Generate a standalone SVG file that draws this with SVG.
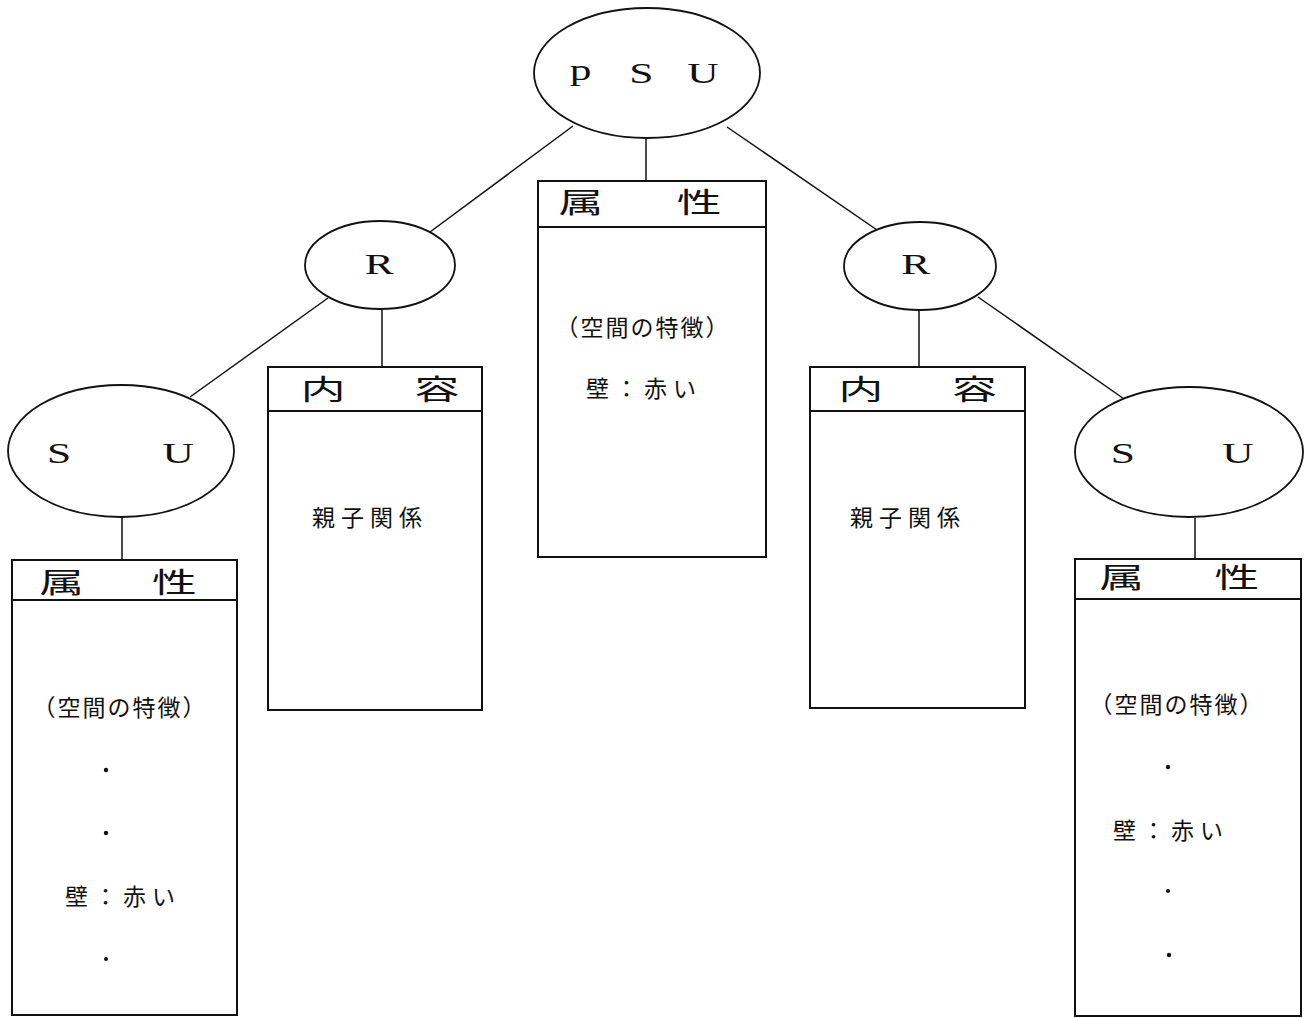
<svg xmlns="http://www.w3.org/2000/svg" width="1311" height="1018" viewBox="0 0 1311 1018">
<style>
.el{fill:#fff;stroke:#111;stroke-width:1.8}
.bx{fill:#fff;stroke:#111;stroke-width:2}
.hl{stroke:#111;stroke-width:2}
.cn{stroke:#111;stroke-width:1.5;fill:none}
.lat{font-family:"Liberation Serif",serif;font-size:30px;fill:#111}
.hd{font-family:"Noto Sans CJK JP",sans-serif;font-size:28px;fill:#111}
.tx{font-family:"Noto Sans CJK JP",sans-serif;font-size:23px;fill:#111;text-anchor:middle}
.dot{fill:#111}
</style>
<rect width="1311" height="1018" fill="#fff"/>
<g id="connectors">
<line class="cn" x1="573" y1="126" x2="430" y2="232"/>
<line class="cn" x1="727" y1="127" x2="880" y2="232"/>
<line class="cn" x1="328" y1="298" x2="190" y2="397"/>
<line class="cn" x1="978" y1="297" x2="1127" y2="401"/>
<line class="cn" x1="646" y1="138" x2="646" y2="181"/>
<line class="cn" x1="382" y1="308" x2="382" y2="367"/>
<line class="cn" x1="919" y1="310" x2="919" y2="367"/>
<line class="cn" x1="122" y1="517" x2="122" y2="560"/>
<line class="cn" x1="1195" y1="518" x2="1195" y2="559"/>
</g>
<g id="psu">
<ellipse class="el" cx="647" cy="73" rx="113" ry="65"/>
<text class="lat" transform="scale(1.45,1)"><tspan x="393" y="80">p </tspan><tspan x="434" y="83">S </tspan><tspan x="474" y="83">U</tspan></text>
</g>
<g id="r-left">
<ellipse class="el" cx="380" cy="265" rx="75" ry="44"/>
<text class="lat" transform="scale(1.45,1)" x="251.5" y="274">R</text>
</g>
<g id="r-right">
<ellipse class="el" cx="920" cy="266" rx="76" ry="44"/>
<text class="lat" transform="scale(1.45,1)" x="621.5" y="274">R</text>
</g>
<g id="su-left">
<ellipse class="el" cx="121" cy="451" rx="113" ry="66"/>
<text class="lat" transform="scale(1.45,1)" y="463"><tspan x="32.5">S </tspan><tspan x="112">U</tspan></text>
</g>
<g id="su-right">
<ellipse class="el" cx="1189" cy="452" rx="114" ry="65"/>
<text class="lat" transform="scale(1.45,1)" y="463"><tspan x="766">S </tspan><tspan x="843">U</tspan></text>
</g>
<g id="attr-center">
<rect class="bx" x="538" y="181" width="228" height="376"/>
<line class="hl" x1="538" y1="227" x2="766" y2="227"/>
<text class="hd" transform="scale(1.6,1)" y="213"><tspan x="349">属 </tspan><tspan x="423">性</tspan></text>
<text class="tx" x="643" y="336" letter-spacing="2">（空間の特徴）</text>
<text class="tx" x="644" y="397" letter-spacing="6">壁：赤い</text>
</g>
<g id="content-left">
<rect class="bx" x="268" y="367" width="214" height="343"/>
<line class="hl" x1="268" y1="411" x2="482" y2="411"/>
<text class="hd" transform="scale(1.6,1)" y="400"><tspan x="188">内 </tspan><tspan x="259">容</tspan></text>
<text class="tx" x="370" y="526" letter-spacing="6">親子関係</text>
</g>
<g id="content-right">
<rect class="bx" x="810" y="367" width="215" height="341"/>
<line class="hl" x1="810" y1="411" x2="1025" y2="411"/>
<text class="hd" transform="scale(1.6,1)" y="400"><tspan x="524">内 </tspan><tspan x="595">容</tspan></text>
<text class="tx" x="908" y="526" letter-spacing="6">親子関係</text>
</g>
<g id="attr-left">
<rect class="bx" x="12" y="560" width="225" height="455"/>
<line class="hl" x1="12" y1="600" x2="237" y2="600"/>
<text class="hd" transform="scale(1.6,1)" y="593"><tspan x="24.5">属 </tspan><tspan x="95">性</tspan></text>
<text class="tx" x="120" y="716" letter-spacing="2">（空間の特徴）</text>
<circle class="dot" cx="106" cy="770" r="2.2"/>
<circle class="dot" cx="106" cy="833" r="2.2"/>
<text class="tx" x="123" y="905" letter-spacing="6">壁：赤い</text>
<circle class="dot" cx="106" cy="959" r="2"/>
</g>
<g id="attr-right">
<rect class="bx" x="1075" y="559" width="226" height="457"/>
<line class="hl" x1="1075" y1="599" x2="1301" y2="599"/>
<text class="hd" transform="scale(1.6,1)" y="588"><tspan x="687">属 </tspan><tspan x="759">性</tspan></text>
<text class="tx" x="1177" y="713" letter-spacing="2">（空間の特徴）</text>
<circle class="dot" cx="1168" cy="767" r="2.2"/>
<text class="tx" x="1171" y="839" letter-spacing="6">壁：赤い</text>
<circle class="dot" cx="1168" cy="891" r="2"/>
<circle class="dot" cx="1169" cy="955" r="2.2"/>
</g>
</svg>
